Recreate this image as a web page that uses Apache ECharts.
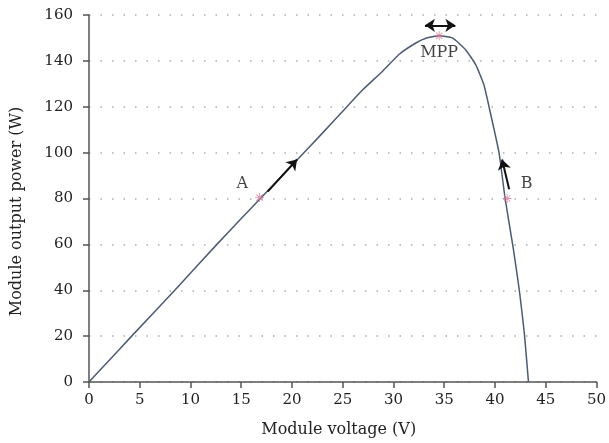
<!DOCTYPE html>
<html>
<head>
<meta charset="utf-8">
<script src="https://cdn.jsdelivr.net/npm/echarts@6/dist/echarts.min.js"></script>
<style>
html, body { margin: 0; padding: 0; background: #fff; }
#chart { width: 609px; height: 443px; }
</style>
</head>
<body>
<div id="chart"></div>
<script>
// P-V curve of the module
var voltage = [0, 2, 4.2, 8.45, 12.6, 15, 17, 20, 23, 25.3, 27, 28.9, 30.6, 32.2, 33.2, 34.5, 35.8, 37.1, 38.1, 38.9, 39.4, 40.4, 41.0, 41.8, 42.4, 42.9, 43.3];
var power = [0, 9.5, 20, 40, 60, 71.3, 80.5, 94.5, 108.5, 119.5, 127.5, 135.4, 143, 147.8, 149.9, 151, 150, 144.9, 138.4, 129.7, 120.3, 100, 80, 58.4, 40, 21, 0];

// marked operating points
var pointNames = ['A', 'MPP', 'B'];
var pointV = [16.8, 34.5, 41.2];
var pointP = [80.4, 151, 80];

// arrows: [fromV, fromP, toV, toP]
var arrowA = [17.6, 83, 20.5, 97];
var arrowMpp = [33.1, 155.5, 36.1, 155.5];
var arrowB = [41.4, 84, 40.7, 97];

var FONT = 'DejaVu Serif';
var asterisk = 'path://M9,0h2v7.6l5.4,-5.4l1.4,1.4l-5.4,5.4h7.6v2h-7.6l5.4,5.4l-1.4,1.4l-5.4,-5.4v7.6h-2v-7.6l-5.4,5.4l-1.4,-1.4l5.4,-5.4h-7.6v-2h7.6l-5.4,-5.4l1.4,-1.4l5.4,5.4z';

var curveData = [];
for (var i = 0; i < voltage.length; i++) {
    curveData.push([voltage[i], power[i]]);
}
var labelPos = {
    'A': { position: 'left', offset: [-2, -14] },
    'MPP': { position: 'bottom', offset: [0, 0] },
    'B': { position: 'right', offset: [4, -15] }
};
var pointData = [];
for (var j = 0; j < pointNames.length; j++) {
    pointData.push({
        name: pointNames[j],
        value: [pointV[j], pointP[j]],
        label: labelPos[pointNames[j]]
    });
}
function arrowLine(a, both) {
    var from = { coord: [a[0], a[1]] };
    if (both) from.symbol = 'arrow';
    return [from, { coord: [a[2], a[3]], symbol: 'arrow' }];
}

var option = {
    animation: false,
    grid: { left: 89, right: 11, top: 15, bottom: 58 },
    xAxis: {
        type: 'value',
        min: 0,
        max: 50,
        interval: 5,
        name: 'Module voltage (V)',
        nameLocation: 'middle',
        nameGap: 40,
        nameTextStyle: { fontFamily: FONT, fontSize: 16, color: '#222', padding: [0, 8, 0, 0] },
        axisLine: { lineStyle: { color: '#555', width: 1.5 } },
        axisTick: { length: 6, lineStyle: { color: '#555', width: 1.5 } },
        axisLabel: { margin: 11, fontFamily: FONT, fontSize: 15, color: '#222' },
        splitLine: { show: false }
    },
    yAxis: {
        type: 'value',
        min: 0,
        max: 160,
        interval: 20,
        name: 'Module output power (W)',
        nameLocation: 'middle',
        nameGap: 64,
        nameTextStyle: { fontFamily: FONT, fontSize: 16, color: '#222', padding: [0, 26, 0, 0] },
        axisLine: { show: true, lineStyle: { color: '#555', width: 1.5 } },
        axisTick: { show: true, length: 6, lineStyle: { color: '#555', width: 1.5 } },
        axisLabel: { margin: 16, fontFamily: FONT, fontSize: 15, color: '#222' },
        splitLine: { show: true, lineStyle: { color: '#aaa', width: 1.5, type: [1.5, 10] } }
    },
    series: [{
        type: 'line',
        data: curveData,
        smooth: 0.15,
        showSymbol: false,
        lineStyle: { color: '#4d5b72', width: 1.5 },
        markLine: {
            silent: true,
            symbol: ['none', 'arrow'],
            symbolSize: 10,
            label: { show: false },
            lineStyle: { color: '#111', width: 2, type: 'solid' },
            data: [
                arrowLine(arrowA, false),
                arrowLine(arrowB, false),
                arrowLine(arrowMpp, true)
            ]
        }
    }, {
        type: 'scatter',
        data: pointData,
        symbol: asterisk,
        symbolSize: 9,
        itemStyle: { color: '#d9799a' },
        label: {
            show: true,
            formatter: '{b}',
            fontFamily: FONT,
            fontSize: 16,
            color: '#111'
        },
        z: 5
    }]
};
var echart = echarts.init(document.getElementById('chart'));
echart.setOption(option, true);
</script>
</body>
</html>
